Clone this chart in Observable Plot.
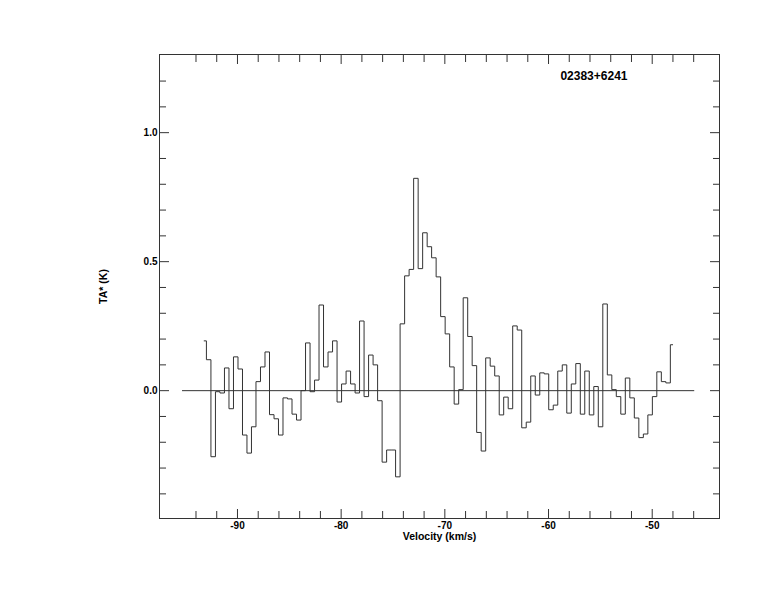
<!DOCTYPE html>
<html>
<head>
<meta charset="utf-8">
<script src="https://cdn.jsdelivr.net/npm/d3@7"></script>
<script src="https://cdn.jsdelivr.net/npm/@observablehq/plot@0.6"></script>
<style>
  html, body { margin: 0; padding: 0; background: #fff; }
</style>
</head>
<body>
<div id="chart"></div>
<script>
// ---- data ----
const velocity = [
  -93.21, -92.78, -92.34, -91.91, -91.47, -91.04, -90.60, -90.17, -89.73, -89.30,
  -88.87, -88.43, -88.00, -87.56, -87.13, -86.69, -86.26, -85.83, -85.39, -84.96,
  -84.52, -84.09, -83.65, -83.22, -82.78, -82.35, -81.92, -81.48, -81.05, -80.61,
  -80.18, -79.74, -79.31, -78.87, -78.44, -78.01, -77.57, -77.14, -76.70, -76.27,
  -75.83, -75.40, -74.97, -74.53, -74.10, -73.66, -73.23, -72.79, -72.36, -71.92,
  -71.49, -71.06, -70.62, -70.19, -69.75, -69.32, -68.88, -68.45, -68.01, -67.58,
  -67.15, -66.71, -66.28, -65.84, -65.41, -64.97, -64.54, -64.11, -63.67, -63.24,
  -62.80, -62.37, -61.93, -61.50, -61.06, -60.63, -60.20, -59.76, -59.33, -58.89,
  -58.46, -58.02, -57.59, -57.15, -56.72, -56.29, -55.85, -55.42, -54.98, -54.55,
  -54.11, -53.68, -53.25, -52.81, -52.38, -51.94, -51.51, -51.07, -50.64, -50.20,
  -49.77, -49.34, -48.90, -48.47, -48.03
];
const antennaTemp = [
   0.193,  0.120, -0.256, -0.004, -0.009,  0.088, -0.070,  0.131,  0.084, -0.172,
  -0.242, -0.140,  0.035,  0.092,  0.150, -0.093, -0.109, -0.172, -0.028, -0.032,
  -0.091, -0.114,  0.000,  0.185, -0.004,  0.041,  0.332,  0.092,  0.150,  0.193,
  -0.044,  0.026,  0.076,  0.026, -0.009,  0.270, -0.023,  0.138,  0.100, -0.039,
  -0.277, -0.230, -0.230, -0.334,  0.259,  0.445,  0.470,  0.823,  0.473,  0.612,
   0.558,  0.515,  0.441,  0.287,  0.220,  0.092, -0.052,  0.004,  0.360,  0.210,
   0.097, -0.162, -0.234,  0.127,  0.095,  0.057, -0.094, -0.025, -0.070,  0.251,
   0.235, -0.144, -0.122,  0.057, -0.017,  0.069,  0.065, -0.074, -0.056,  0.076,
   0.100, -0.087,  0.026,  0.105, -0.091,  0.076, -0.094,  0.016, -0.140,  0.336,
   0.061,  0.004, -0.023, -0.091,  0.049, -0.028, -0.106, -0.182, -0.168, -0.094,
  -0.023,  0.073,  0.035,  0.030,  0.178
];
const baselineRange = [-95.3, -45.9];
const xDomain = [-97.52, -43.51];
const yDomain = [-0.4955, 1.303];
const xMajor = [-90, -80, -70, -60, -50];
const xMinor = [-94, -92, -88, -86, -84, -82, -78, -76, -74, -72, -68, -66, -64, -62, -58, -56, -54, -52, -48, -46];
const yMajor = [0, 0.5, 1.0];
const yMajorLabels = ["0.0", "0.5", "1.0"];
const yMinor = [-0.4, -0.3, -0.2, -0.1, 0.1, 0.2, 0.3, 0.4, 0.6, 0.7, 0.8, 0.9, 1.1, 1.2];
const sourceName = "02383+6241";
const xTitle = "Velocity (km/s)";
const yTitle = "TA* (K)";

const spectrum = velocity.map((v, i) => ({v, t: antennaTemp[i]}));
const ink = "#333";

const blank = () => "";
const chart = Plot.plot({
  width: 774,
  height: 612,
  marginLeft: 159,
  marginRight: 55,
  marginTop: 54,
  marginBottom: 94,
  style: {
    fontFamily: "'Liberation Sans', Arial, Helvetica, sans-serif",
    fontSize: "10px",
    fontWeight: "bold",
    background: "#fff",
    color: "#000"
  },
  x: {domain: xDomain},
  y: {domain: yDomain},
  marks: [
    Plot.ruleY([0], {x1: baselineRange[0], x2: baselineRange[1], stroke: ink, strokeWidth: 1}),
    Plot.lineY(spectrum, {x: "v", y: "t", curve: "step", stroke: ink, strokeWidth: 1}),
    Plot.frame({stroke: ink, strokeWidth: 1}),
    // bottom axis ticks (inward) and labels
    Plot.axisX({anchor: "bottom", ticks: xMajor, tickSize: -9, tickFormat: blank, label: null, stroke: ink}),
    Plot.axisX({anchor: "bottom", ticks: xMinor, tickSize: -7, tickFormat: blank, label: null, stroke: ink}),
    Plot.axisX({anchor: "bottom", ticks: xMajor, tickSize: 0, tickPadding: 3.5, tickFormat: d => String(d), label: null, fontWeight: "bold"}),
    // top axis ticks
    Plot.axisX({anchor: "top", ticks: xMajor, tickSize: -9, tickFormat: blank, label: null, stroke: ink}),
    Plot.axisX({anchor: "top", ticks: xMinor, tickSize: -7, tickFormat: blank, label: null, stroke: ink}),
    // left axis
    Plot.axisY({anchor: "left", ticks: yMajor, tickSize: -10, tickFormat: blank, label: null, stroke: ink}),
    Plot.axisY({anchor: "left", ticks: yMinor, tickSize: -7, tickFormat: blank, label: null, stroke: ink}),
    Plot.axisY({anchor: "left", ticks: yMajor, tickSize: 0, tickPadding: 2, tickFormat: d => yMajorLabels[yMajor.indexOf(d)], label: null, fontWeight: "bold"}),
    // right axis
    Plot.axisY({anchor: "right", ticks: yMajor, tickSize: -10, tickFormat: blank, label: null, stroke: ink}),
    Plot.axisY({anchor: "right", ticks: yMinor, tickSize: -7, tickFormat: blank, label: null, stroke: ink}),
    // titles
    Plot.text([xTitle], {text: d => d, frameAnchor: "bottom", dy: 14.5, lineAnchor: "top", textAnchor: "middle", fontWeight: "bold", fontSize: 10.5}),
    Plot.text([yTitle], {text: d => d, frameAnchor: "left", dx: -56, rotate: -90, textAnchor: "middle", lineAnchor: "middle", fontWeight: "bold", fontSize: 10.5}),
    Plot.text([sourceName], {text: d => d, frameAnchor: "top-right", dx: -92, dy: 22, textAnchor: "end", lineAnchor: "middle", fontWeight: "bold", fontSize: 12})
  ]
});
document.getElementById("chart").appendChild(chart);
</script>
</body>
</html>
